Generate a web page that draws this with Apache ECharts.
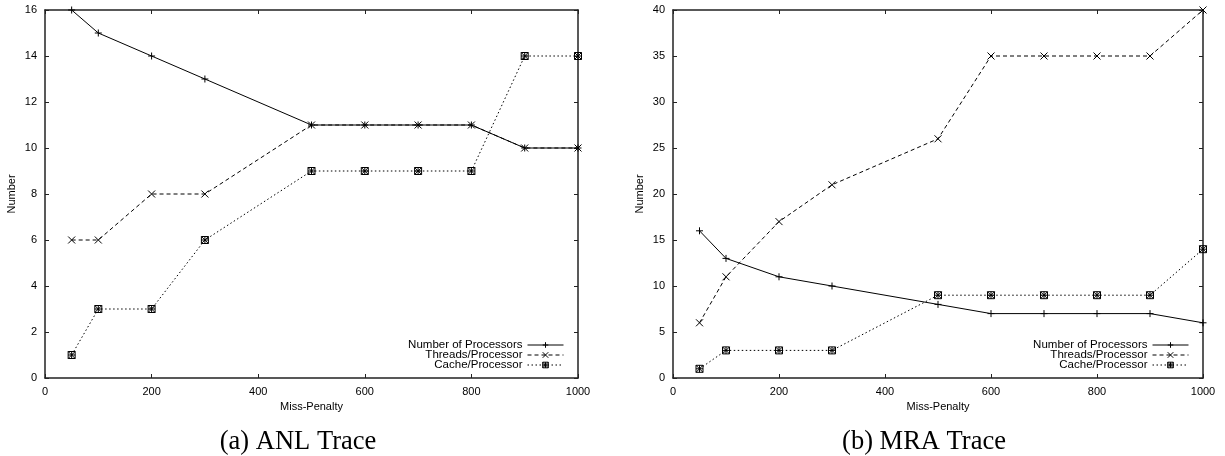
<!DOCTYPE html>
<html><head><meta charset="utf-8">
<script src="https://cdn.jsdelivr.net/npm/echarts@6/dist/echarts.min.js"></script>
<style>html,body{margin:0;padding:0;background:#fff}#c{width:1225px;height:456px}</style>
</head><body><div id="c"></div>
<script>
var missPenalty = [50,100,200,300,500,600,700,800,900,1000];
var anlProcessors = [16,15,14,13,11,11,11,11,10,10];
var anlThreads = [6,6,8,8,11,11,11,11,10,10];
var anlCache = [1,3,3,6,9,9,9,9,14,14];
var mraProcessors = [16,13,11,10,8,7,7,7,7,6];
var mraThreads = [6,11,17,21,26,35,35,35,35,40];
var mraCache = [1,3,3,3,9,9,9,9,9,14];
var seriesNames = ['Number of Processors','Threads/Processor','Cache/Processor'];
var captions = ['(a) ANL Trace','(b) MRA Trace'];
var xLabel = 'Miss-Penalty', yLabel = 'Number';

var SYM_PLUS = 'path://M0,5L10,5M5,0L5,10';
var SYM_X = 'path://M0,0L10,10M10,0L0,10';
var SYM_STAR = 'path://M0,0L10,0L10,10L0,10Z M0,0L10,10M10,0L0,10M0,5L10,5M5,0L5,10';
var FONT = 'Liberation Sans';

function pts(ys){ return missPenalty.map(function(x,i){return [x,ys[i]];}); }
function mk(name, ys, gi, sym, type){
  return {
    name: name, type: 'line', xAxisIndex: gi*2, yAxisIndex: gi*2,
    data: pts(ys), symbol: sym, symbolSize: 7, showSymbol: true,
    lineStyle: {color:'#000', width:1, type:type},
    itemStyle: {color:'transparent', borderColor:'#000', borderWidth:1},
    emphasis: {disabled:true}, animation:false, z: 3
  };
}
function xAx(gi, pos){
  return {type:'value', gridIndex:gi, position:pos, min:0, max:1000, interval:200,
    name: pos==='bottom'? xLabel : '', nameLocation:'middle', nameGap:23,
    nameTextStyle:{fontFamily:FONT, fontSize:11, color:'#000'},
    axisLine:{show:true, onZero:false, lineStyle:{color:'#222', width:1.5}},
    axisTick:{show:true, inside:true, length:4, lineStyle:{color:'#222'}},
    axisLabel:{show: pos==='bottom', fontFamily:FONT, fontSize:11, color:'#000', margin:8,
      formatter:function(v){return String(v);}},
    splitLine:{show:false}};
}
function yAx(gi, pos, max, iv){
  return {type:'value', gridIndex:gi, position:pos, min:0, max:max, interval:iv,
    name: pos==='left'? yLabel : '', nameLocation:'middle', nameGap:28, nameRotate:90,
    nameTextStyle:{fontFamily:FONT, fontSize:11, color:'#000'},
    axisLine:{show:true, onZero:false, lineStyle:{color:'#222', width:1.5}},
    axisTick:{show:true, inside:true, length:4, lineStyle:{color:'#222'}},
    axisLabel:{show: pos==='left', fontFamily:FONT, fontSize:11, color:'#000', margin:8},
    splitLine:{show:false}};
}
function legend(right){
  return {orient:'vertical', right:right, top:339, align:'right', itemWidth:36, itemHeight:7,
    itemGap:-2, padding:0, selectedMode:false, data:seriesNames,
    itemStyle:{color:'transparent', borderColor:'#000', borderWidth:1},
    lineStyle:{width:1, color:'#000'},
    textStyle:{fontFamily:FONT, fontSize:11.5, color:'#000', lineHeight:10}};
}
var chart = echarts.init(document.getElementById('c'), null, {renderer:'canvas'});
chart.setOption({
  backgroundColor:'#fff', animation:false,
  grid:[{left:45, right:647, top:10, bottom:78}, {left:673, right:22, top:10, bottom:78}],
  xAxis:[xAx(0,'bottom'), xAx(0,'top'), xAx(1,'bottom'), xAx(1,'top')],
  yAxis:[yAx(0,'left',16,2), yAx(0,'right',16,2), yAx(1,'left',40,5), yAx(1,'right',40,5)],
  legend:[legend(661), legend(36)],
  title:[
    {text:captions[0], left:293, top:424, textAlign:'center', textStyle:{fontFamily:'Liberation Serif', fontSize:26.5, fontWeight:'normal', color:'#000'}},
    {text:captions[1], left:919, top:424, textAlign:'center', textStyle:{fontFamily:'Liberation Serif', fontSize:26.5, fontWeight:'normal', color:'#000'}}
  ],
  series:[
    mk(seriesNames[0], anlProcessors, 0, SYM_PLUS, 'solid'),
    mk(seriesNames[1], anlThreads, 0, SYM_X, [4,3]),
    mk(seriesNames[2], anlCache, 0, SYM_STAR, [1.5,2.5]),
    mk(seriesNames[0], mraProcessors, 1, SYM_PLUS, 'solid'),
    mk(seriesNames[1], mraThreads, 1, SYM_X, [4,3]),
    mk(seriesNames[2], mraCache, 1, SYM_STAR, [1.5,2.5])
  ]
});
</script></body></html>
